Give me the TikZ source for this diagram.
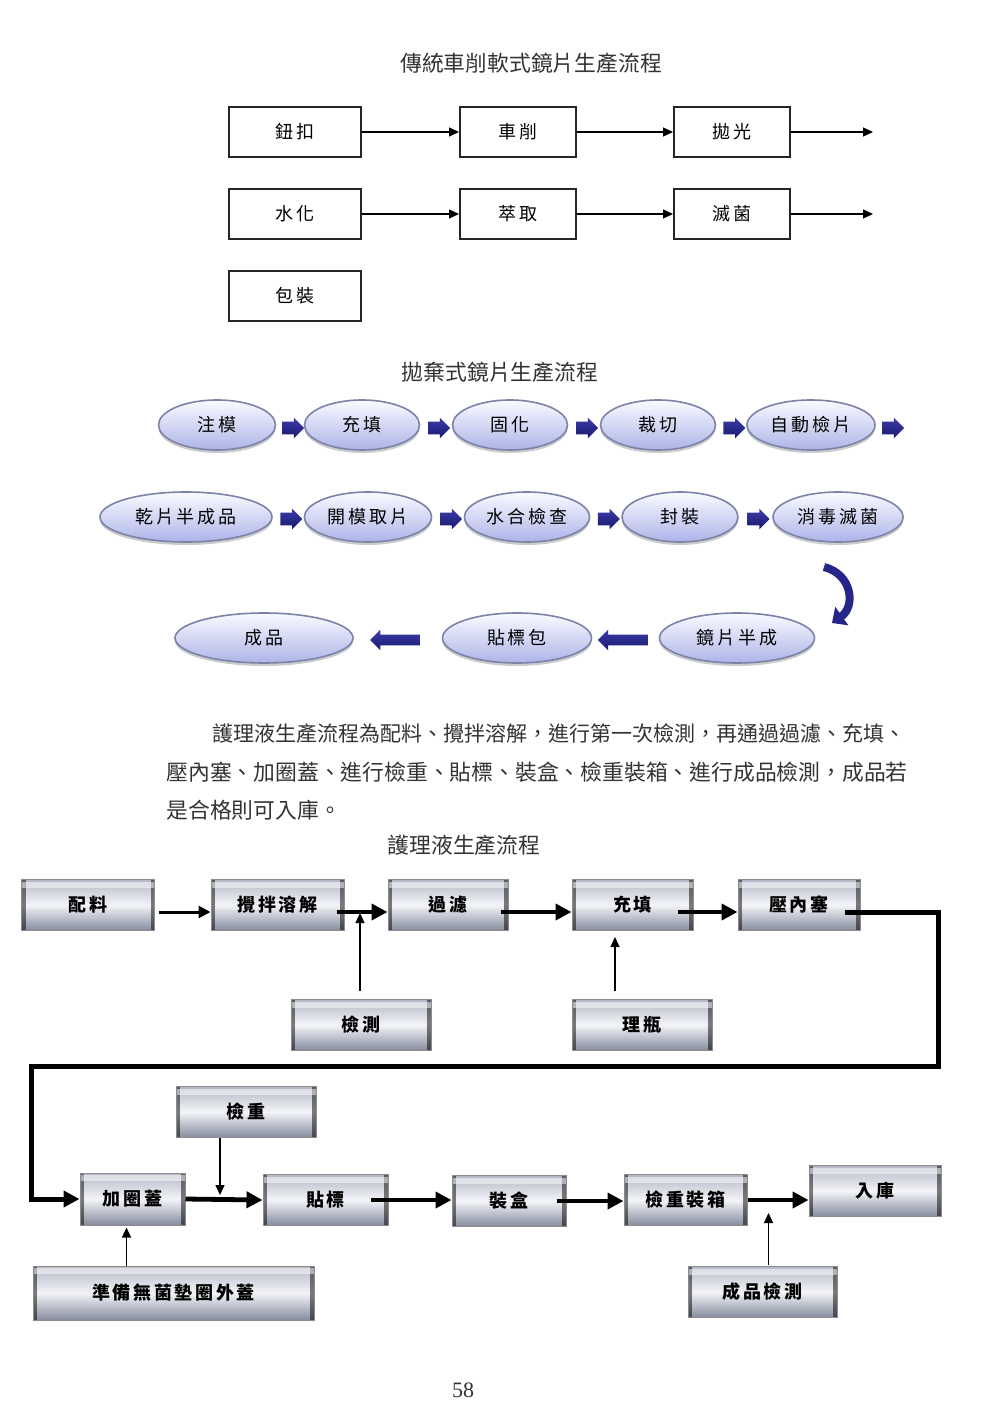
\documentclass[tikz,border=0pt]{standalone}
\usepackage{fontspec}
\setmainfont{Liberation Serif}
\newfontfamily\cjk{Noto Sans CJK TC}
\newfontfamily\cjksp[LetterSpace=15]{Noto Sans CJK TC}
\usetikzlibrary{arrows.meta,shapes.geometric,shapes.arrows,calc,shadows}
\definecolor{ellTop}{HTML}{FAFBFF}
\definecolor{ellBot}{HTML}{ACB4E8}
\definecolor{ellEdge}{HTML}{7C82A8}
\definecolor{navyL}{HTML}{3C3CAA}
\definecolor{navyD}{HTML}{18186E}
\definecolor{navy}{HTML}{26268A}
\definecolor{metTop}{HTML}{B4B8C6}
\definecolor{metMid}{HTML}{F3F4F8}
\definecolor{metBot}{HTML}{858B9E}
\definecolor{txt}{HTML}{333333}
\tikzset{
  caption/.style={font=\cjk\fontsize{10.9}{13}\selectfont, text=txt, inner sep=0pt},
  para/.style={text=txt, inner sep=0pt, anchor=west},
  plainbox/.style={draw=black!85, line width=1pt, minimum height=25pt, inner sep=0pt,
    font=\cjksp\fontsize{9}{9}\selectfont},
  thinarrow/.style={line width=0.6pt, -{Triangle[length=5pt,width=4.5pt]}},
  lens/.style={ellipse, draw=ellEdge, line width=0.8pt, top color=ellTop, bottom color=ellBot,
    minimum height=25pt, inner sep=0pt, font=\cjksp\fontsize{9}{9}\selectfont,
    drop shadow={shadow xshift=0pt, shadow yshift=-1.5pt, fill=black!40}},
  blockarrow/.style={single arrow, draw=none, top color=navyL, bottom color=navyD,
    text height=6pt, text depth=0pt, text width=0pt,
    minimum height=11pt, single arrow head extend=2pt, single arrow head indent=0pt, inner sep=0pt},
  leftarrow/.style={single arrow, shape border rotate=180, draw=none, top color=navyL, bottom color=navyD,
    text height=5pt, text depth=0pt, text width=0pt,
    minimum height=25pt, single arrow head extend=2.5pt, inner sep=0pt},
  metal/.style={draw=black!45, line width=0.5pt, top color=metTop, bottom color=metBot, middle color=metMid,
    inner sep=0pt, minimum height=25.5pt, font=\cjksp\bfseries\fontsize{9}{9}\selectfont,
    path picture={
      \fill[black, opacity=0.5] (path picture bounding box.south west) rectangle ([xshift=2pt]path picture bounding box.north west);
      \fill[black, opacity=0.5] (path picture bounding box.south east) rectangle ([xshift=-2pt]path picture bounding box.north east);
      \fill[white, opacity=0.5] ([yshift=-1pt]path picture bounding box.north west) rectangle ([yshift=-4pt]path picture bounding box.north east);
    }},
  thickarrow/.style={line width=2.4pt, -{Triangle[length=8pt,width=8pt]}},
  midarrow/.style={line width=1.5pt, -{Triangle[length=6pt,width=6pt]}},
  feed/.style={line width=0.6pt, -{Triangle[length=5pt,width=4.5pt]}},
  loopline/.style={line width=2.5pt, -{Triangle[length=8pt,width=8pt]}},
}
\begin{document}
\begin{tikzpicture}[x=0.5pt, y=-0.5pt]
\useasboundingbox[fill=white] (0,0) rectangle (1000,1406);

% ---------- Part 1 ----------
\node[caption] (t1) at (531,63) {傳統車削軟式鏡片生產流程};
\node[plainbox, minimum width=66pt] (a1) at (295,132) {鈕扣};
\node[plainbox, minimum width=58pt] (a2) at (518,132) {車削};
\node[plainbox, minimum width=58pt] (a3) at (732,132) {拋光};
\node[plainbox, minimum width=66pt] (b1) at (295,214) {水化};
\node[plainbox, minimum width=58pt] (b2) at (518,214) {萃取};
\node[plainbox, minimum width=58pt] (b3) at (732,214) {滅菌};
\node[plainbox, minimum width=66pt] (c1) at (295,296) {包裝};
\coordinate (ea) at (873,132);
\coordinate (eb) at (873,214);
\draw[thinarrow] (a1) -- (a2);
\draw[thinarrow] (a2) -- (a3);
\draw[thinarrow] (a3) -- (ea);
\draw[thinarrow] (b1) -- (b2);
\draw[thinarrow] (b2) -- (b3);
\draw[thinarrow] (b3) -- (eb);

% ---------- Part 2 ----------
\node[caption] (t2) at (500,372) {拋棄式鏡片生產流程};
\node[lens, minimum width=58.5pt] (l1) at (217,425) {注模};
\node[lens, minimum width=57.5pt] (l2) at (362,425) {充填};
\node[lens, minimum width=57.5pt] (l3) at (510,425) {固化};
\node[lens, minimum width=57.5pt] (l4) at (658,425) {裁切};
\node[lens, minimum width=64pt] (l5) at (811,425) {自動檢片};
\node[lens, minimum width=86pt] (m1) at (186,517) {乾片半成品};
\node[lens, minimum width=63.5pt] (m2) at (368,517) {開模取片};
\node[lens, minimum width=62.5pt] (m3) at (527,517) {水合檢查};
\node[lens, minimum width=58pt] (m4) at (680,517) {封裝};
\node[lens, minimum width=65pt] (m5) at (838,517) {消毒滅菌};
\node[lens, minimum width=89pt] (n1) at (264,638) {成品};
\node[lens, minimum width=74.5pt] (n2) at (517,638) {貼標包};
\node[lens, minimum width=77.5pt] (n3) at (737,638) {鏡片半成};

\node[blockarrow] (ar1) at ($(l1.east)!0.5!(l2.west)+(0,3)$) {};
\node[blockarrow] (ar2) at ($(l2.east)!0.5!(l3.west)+(0,3)$) {};
\node[blockarrow] (ar3) at ($(l3.east)!0.5!(l4.west)+(0,3)$) {};
\node[blockarrow] (ar4) at ($(l4.east)!0.5!(l5.west)+(0,3)$) {};
\node[blockarrow] (ar5) at (890,428) {};
\node[blockarrow] (br1) at ($(m1.east)!0.5!(m2.west)+(0,2)$) {};
\node[blockarrow] (br2) at ($(m2.east)!0.5!(m3.west)+(0,2)$) {};
\node[blockarrow] (br3) at ($(m3.east)!0.5!(m4.west)+(0,2)$) {};
\node[blockarrow] (br4) at ($(m4.east)!0.5!(m5.west)+(0,2)$) {};
\node[leftarrow] (cr1) at ($(n1.east)!0.5!(n2.west)+(0,2)$) {};
\node[leftarrow] (cr2) at ($(n2.east)!0.5!(n3.west)+(0,2)$) {};
\coordinate (cu1) at (824,567);
\coordinate (cu2) at (832,623);
\draw[navy, line width=4pt, -{Triangle[length=6pt,width=11pt]}] (cu1) .. controls (852,574) and (856,606) .. (cu2);

% ---------- Paragraph ----------
\node[para, font=\cjk\fontsize{10.5}{13}\selectfont] (p1) at (212,734) {護理液生產流程為配料、攪拌溶解，進行第一次檢測，再通過過濾、充填、};
\node[para, font=\cjk\fontsize{10.9}{13}\selectfont] (p2) at (166,772) {壓內塞、加圈蓋、進行檢重、貼標、裝盒、檢重裝箱、進行成品檢測，成品若};
\node[para, font=\cjk\fontsize{10.9}{13}\selectfont] (p3) at (166,810) {是合格則可入庫。};

% ---------- Part 3 ----------
\node[caption] (t3) at (464,845) {護理液生產流程};
\node[metal, minimum width=66.5pt] (pl) at (88,905) {配料};
\node[metal, minimum width=66.5pt] (jb) at (277.5,905) {攪拌溶解};
\node[metal, minimum width=60pt] (gl) at (448,905) {過濾};
\node[metal, minimum width=60.5pt] (ct) at (632.5,905) {充填};
\node[metal, minimum width=61pt] (yn) at (799,905) {壓內塞};
\node[metal, minimum width=70pt] (jc) at (361,1025) {檢測};
\node[metal, minimum width=70pt] (lp) at (642,1025) {理瓶};
\node[metal, minimum width=70pt] (jz) at (246,1112) {檢重};
\node[metal, minimum width=52.5pt, minimum height=26pt] (jq) at (132.5,1199) {加圈蓋};
\node[metal, minimum width=62.5pt] (tb) at (325.5,1200) {貼標};
\node[metal, minimum width=57pt] (zh) at (509,1201) {裝盒};
\node[metal, minimum width=61.5pt] (zx) at (685.5,1200) {檢重裝箱};
\node[metal, minimum width=66pt] (rk) at (875,1191) {入庫};
\node[metal, minimum width=140.5pt, minimum height=27pt] (zb) at (173.5,1293) {準備無菌墊圈外蓋};
\node[metal, minimum width=74.5pt] (cj) at (762.5,1292) {成品檢測};

\draw[midarrow] ([xshift=2pt,yshift=-3.5pt]pl.east) -- ([yshift=-3.5pt]jb.west);
\draw[thickarrow] ([xshift=-4pt,yshift=-3.5pt]jb.east) -- ([yshift=-3.5pt]gl.west);
\draw[thickarrow] ([xshift=-4pt,yshift=-3.5pt]gl.east) -- ([yshift=-3.5pt]ct.west);
\draw[thickarrow] ([xshift=-8pt,yshift=-3.5pt]ct.east) -- ([yshift=-3.5pt]yn.west);
\draw[feed] ($(jc.north)+(-1,-8)$) -- ($(jc.north)+(-1,-86)$);
\draw[feed] ($(lp.north)+(-27,-8)$) -- ($(lp.north)+(-27,-62)$);

\coordinate (kR) at (938,1066);
\coordinate (kL) at (31,1066);
\draw[loopline, line join=miter] ([xshift=-8pt,yshift=-3.5pt]yn.east) -| (kR) -- (kL) |- (jq.west);

\draw[thickarrow] (jq.east) -- (tb.west);
\draw[feed] ($(jz.south)+(-26,0)$) -- ($(jz.south)+(-26,57)$);
\draw[thickarrow] ([xshift=-9pt]tb.east) -- (tb.east -| zh.west);
\draw[thickarrow] ([xshift=-5pt]zh.east) -- (zh.east -| zx.west);
\draw[thickarrow, line width=2pt] (zx.east) -- (zx.east -| rk.west);
\draw[feed] ($(zb.north)+(-47,0)$) -- ($(zb.north)+(-47,-38)$);
\draw[feed] ($(cj.north)+(6,-1)$) -- ($(cj.north)+(6,-53)$);

% ---------- Page number ----------
\node[text=txt, font=\fontsize{11}{13}\selectfont, inner sep=0pt] (pg) at (463,1390) {58};
\end{tikzpicture}
\end{document}
